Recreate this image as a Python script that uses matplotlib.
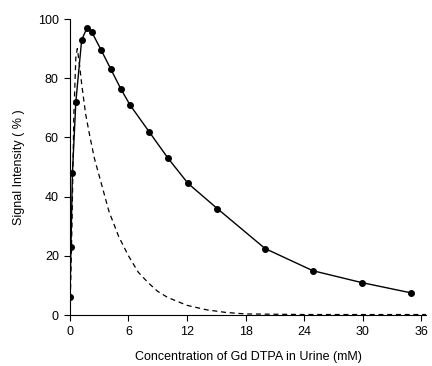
import matplotlib.pyplot as plt
import numpy as np

plt.rcParams['font.family'] = ['Liberation Sans', 'DejaVu Sans']

# measured signal (solid line, filled dots)
conc = np.array([0, 0.1, 0.25, 0.6, 1.2, 1.75, 2.25, 3.2, 4.2, 5.2, 6.15, 8.1, 10.05, 12.1, 15.1, 20, 24.9, 29.9, 35])
signal = np.array([6, 23, 48, 72, 93, 97, 95.5, 89.5, 83, 76.5, 71, 62, 53, 44.5, 36, 22.5, 15, 11, 7.5])

# dashed curve
conc_d = np.array([0, 0.2, 0.4, 0.6, 0.75, 1.0, 1.2, 1.6, 2, 2.5, 3, 4, 5, 6, 7, 8, 9, 10,
                   12, 14, 16, 18, 24, 30, 36.5])
signal_d = np.array([0, 30, 68, 87, 90, 84, 78, 68, 61, 53, 47, 35, 26.5, 20, 14.5, 11, 8, 6,
                     3.3, 1.8, 0.9, 0.4, 0.2, 0.2, 0.2])

xticks = [0, 6, 12, 18, 24, 30, 36]
yticks = [0, 20, 40, 60, 80, 100]

fig = plt.figure(figsize=(4.32, 3.66), dpi=100)
ax = fig.add_axes([0.162, 0.139, 0.824, 0.809])

ax.plot(conc_d, signal_d, color='black', lw=0.9, ls=(0, (4, 3)))
ax.plot(conc, signal, color='black', lw=1.0, marker='o', markersize=4)

ax.set_xlim(0, 36.5)
ax.set_ylim(0, 100)
ax.set_xticks(xticks)
ax.set_yticks(yticks)
ax.tick_params(labelsize=9, length=4, width=0.8, pad=4)

for s in ['top', 'right']:
    ax.spines[s].set_visible(False)
for s in ['left', 'bottom']:
    ax.spines[s].set_linewidth(0.8)

ax.set_xlabel('Concentration of Gd DTPA in Urine (mM)', fontsize=9, labelpad=9)
ax.set_ylabel('Signal Intensity ( % )', fontsize=9, labelpad=9)

fig.savefig('out.png', dpi=100)
